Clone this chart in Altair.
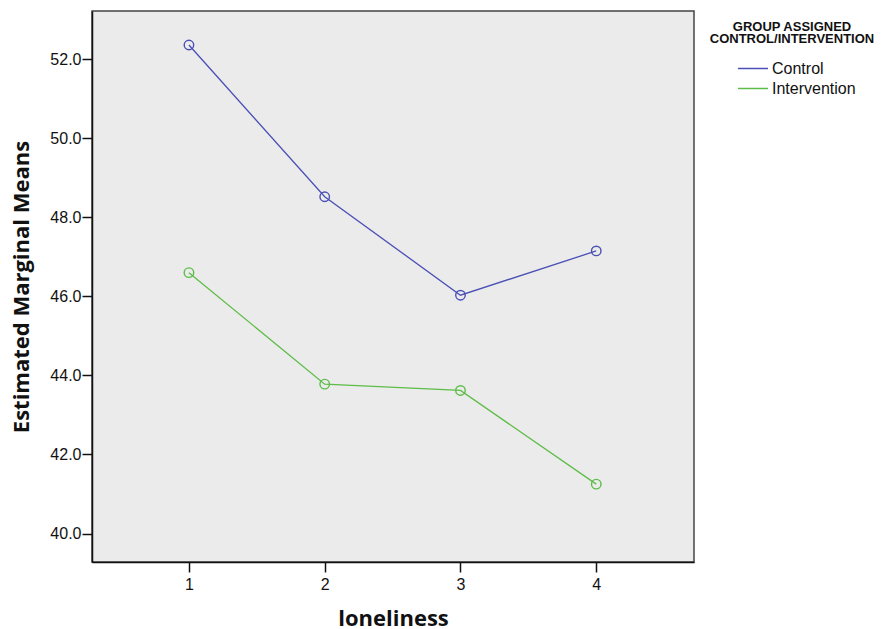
import altair as alt
import pandas as pd

loneliness = [1, 2, 3, 4]
control = [52.36, 48.52, 46.03, 47.15]
intervention = [46.60, 43.78, 43.62, 41.25]
groups = ["Control", "Intervention"]
y_ticks = [40, 42, 44, 46, 48, 50, 52]

rows = []
for g, vals in zip(groups, [control, intervention]):
    for x, v in zip(loneliness, vals):
        rows.append({"loneliness": x, "mean": v, "group": g})
df = pd.DataFrame(rows)

chart = alt.Chart(df).mark_line(
    strokeWidth=1.3,
    point=alt.OverlayMarkDef(filled=False, fill=None, size=90, strokeWidth=1.4, shape="circle"),
).encode(
    x=alt.X("loneliness:Q", title="loneliness",
            scale=alt.Scale(domain=[0.286, 4.72], nice=False, zero=False),
            axis=alt.Axis(values=loneliness, format="d", grid=False, tickSize=10,
                          labelPadding=4, titlePadding=16)),
    y=alt.Y("mean:Q", title="Estimated Marginal Means",
            scale=alt.Scale(domain=[39.28, 53.22], nice=False, zero=False),
            axis=alt.Axis(values=y_ticks, format=".1f", grid=False, tickSize=10,
                          labelPadding=1, titlePadding=16)),
    color=alt.Color("group:N", sort=groups,
                    scale=alt.Scale(domain=groups, range=["#4a4fb5", "#5dbd48"]),
                    legend=alt.Legend(
                        title=["GROUP ASSIGNED", "CONTROL/INTERVENTION"],
                        orient="none", legendX=618, legendY=10,
                        titleAnchor="middle", titleAlign="center",
                        titleFont="Liberation Sans", titleFontSize=13, titleFontWeight="bold",
                        titleColor="#111", titleLineHeight=11.5, titlePadding=12,
                        symbolType="M-1.5,0H1.5", symbolSize=400, symbolStrokeWidth=1.5,
                        symbolFillColor="transparent",
                        symbolOffset=14, labelOffset=8,
                        labelFont="Liberation Sans", labelFontSize=16, labelColor="#111",
                        rowPadding=1,
                    )),
).properties(
    width=602, height=551,
    autosize=alt.AutoSizeParams(type="none"),
    padding={"left": 84, "top": 3, "right": 181, "bottom": 66},
    background="white",
).configure_view(
    fill="#ebebeb", stroke="#444", strokeWidth=1.5,
).configure_axis(
    domainColor="#111", domainWidth=1.5, tickColor="#111", tickWidth=1.5,
    labelFont="Liberation Sans", labelFontSize=16, labelColor="#111",
    titleFont="Open Sans", titleFontSize=22, titleFontWeight="bold", titleColor="#111",
)

chart.save("out.html", embed_options={"renderer": "svg", "actions": False})
